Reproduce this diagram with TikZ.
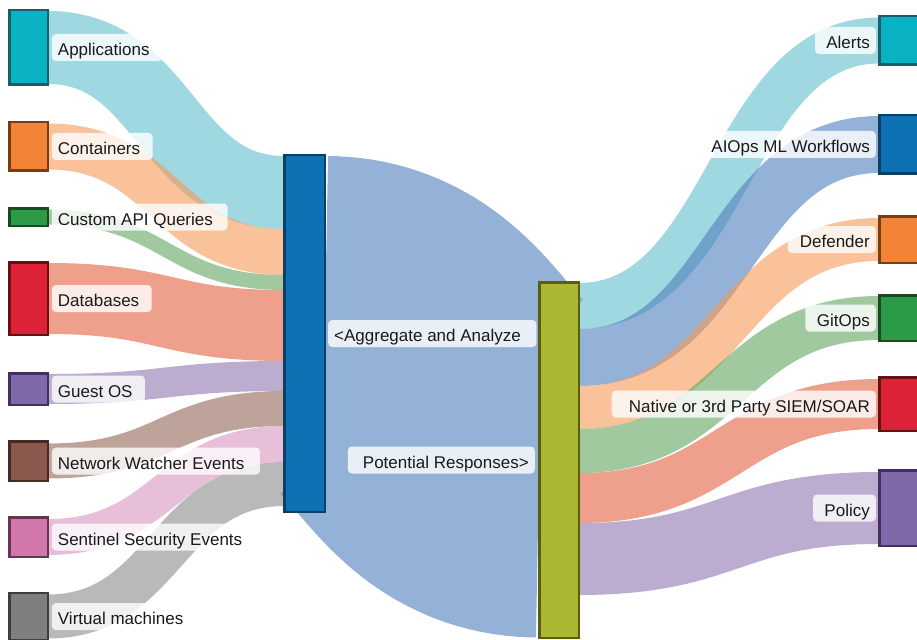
\documentclass[tikz,border=0pt]{standalone}
\usepackage{fontspec}
\setmainfont{Liberation Sans}
\usetikzlibrary{calc}

% node fills and borders
\definecolor{cApps}{HTML}{0AB3C4}\definecolor{bApps}{HTML}{195E68}
\definecolor{cCont}{HTML}{F28337}\definecolor{bCont}{HTML}{7A3D12}
\definecolor{cCust}{HTML}{2B9B48}\definecolor{bCust}{HTML}{1A4A24}
\definecolor{cDB}{HTML}{DD2136}\definecolor{bDB}{HTML}{6B0D14}
\definecolor{cGuest}{HTML}{7F69A8}\definecolor{bGuest}{HTML}{443060}
\definecolor{cNW}{HTML}{8A584C}\definecolor{bNW}{HTML}{462B25}
\definecolor{cSent}{HTML}{D277AB}\definecolor{bSent}{HTML}{693250}
\definecolor{cVM}{HTML}{7E7F80}\definecolor{bVM}{HTML}{3C3E3F}
\definecolor{cBlue}{HTML}{0D72B3}\definecolor{bBlue}{HTML}{0C3F63}
\definecolor{cOlive}{HTML}{ABB632}\definecolor{bOlive}{HTML}{5A5F10}
% link colours (drawn at 60% opacity)
\definecolor{fApps}{HTML}{61BECF}
\definecolor{fCont}{HTML}{F59957}
\definecolor{fCust}{HTML}{61A561}
\definecolor{fDB}{HTML}{E46141}
\definecolor{fGuest}{HTML}{8F75B1}
\definecolor{fNW}{HTML}{936657}
\definecolor{fSent}{HTML}{D794C0}
\definecolor{fVM}{HTML}{8A8A8A}
\definecolor{fBlue}{HTML}{4D7FBC}
\definecolor{txt}{HTML}{1A1A1A}

\tikzset{
  sk bar/.style={inner sep=0pt, outer sep=0pt},
  sk link/.style={line width=#1, line cap=butt, draw opacity=0.6},
  sk label/.style={fill=white, fill opacity=0.8, text opacity=1, text=txt,
    rounded corners=4pt, inner xsep=6pt, inner ysep=0pt,
    text height=21.9pt, text depth=5.1pt, font=\fontsize{17}{20}\selectfont},
}

% a flow band between two ports: constant-thickness bezier
\newcommand\sklink[4]{%
  \draw[sk link=#3, draw=#4] let \p1=(#1), \p2=(#2) in
    (\p1) .. controls ({0.5*\x1+0.5*\x2},{\y1}) and ({0.5*\x1+0.5*\x2},{\y2}) .. (\p2);}
% labels: extra padding on the side away from the bar
\newcommand\lblL[3]{\node[sk label, anchor=west] (#1) at #2
  {\setbox0=\hbox{#3}\dimen0=\dimexpr 4pt+0.03\wd0\relax\box0\kern\dimen0};}
\newcommand\lblR[3]{\node[sk label, anchor=east] (#1) at #2
  {\setbox0=\hbox{#3}\kern\dimexpr 4pt+0.03\wd0\relax\box0};}

\begin{document}
\begin{tikzpicture}[x=1pt,y=-1pt]
\useasboundingbox (0,0) rectangle (917,639);
\clip (0,0) rectangle (917,639);

% ---- bar positions (painted after the links) ----
\path
  (28.5,47.5)  node[sk bar, minimum width=38.5pt, minimum height=74.5pt] (apps) {}
  (28.5,146.5) node[sk bar, minimum width=38.5pt, minimum height=48.5pt] (cont) {}
  (28.5,217)   node[sk bar, minimum width=38.5pt, minimum height=17.5pt] (cust) {}
  (28.5,298.5) node[sk bar, minimum width=38.5pt, minimum height=72.5pt] (db) {}
  (28.5,389)   node[sk bar, minimum width=38.5pt, minimum height=31.5pt] (guest) {}
  (28.5,461)   node[sk bar, minimum width=38.5pt, minimum height=39.5pt] (nw) {}
  (28.5,537)   node[sk bar, minimum width=38.5pt, minimum height=39.5pt] (sent) {}
  (28.5,616.5) node[sk bar, minimum width=38.5pt, minimum height=47.5pt] (vm) {}
  (304.5,333.5) node[sk bar, minimum width=40.5pt, minimum height=356.5pt] (agg) {}
  (559,460)     node[sk bar, minimum width=39.5pt, minimum height=355.5pt] (resp) {}
  (899.5,40.5)  node[sk bar, minimum width=40.5pt, minimum height=48.5pt] (alerts) {}
  (899.5,144.5) node[sk bar, minimum width=40.5pt, minimum height=58.5pt] (aiops) {}
  (899.5,239.5) node[sk bar, minimum width=40.5pt, minimum height=46.5pt] (def) {}
  (899.5,318)   node[sk bar, minimum width=40.5pt, minimum height=45.5pt] (git) {}
  (899.5,404)   node[sk bar, minimum width=40.5pt, minimum height=53.5pt] (siem) {}
  (899.5,508)   node[sk bar, minimum width=40.5pt, minimum height=75.5pt] (pol) {};

% ---- links into the aggregation bar ----
\sklink{apps.east}{[yshift=-37.25pt]agg.north west}{73pt}{fApps}
\sklink{cont.east}{[yshift=-96.75pt]agg.north west}{46pt}{fCont}
\sklink{cust.east}{[yshift=-127.25pt]agg.north west}{15pt}{fCust}
\sklink{db.east}{[yshift=-170.25pt]agg.north west}{71pt}{fDB}
\sklink{guest.east}{[yshift=-220.75pt]agg.north west}{30pt}{fGuest}
\sklink{nw.east}{[yshift=-253.25pt]agg.north west}{35pt}{fNW}
\sklink{sent.east}{[yshift=-288.75pt]agg.north west}{36pt}{fSent}
\sklink{vm.east}{[yshift=-328.75pt]agg.north west}{44pt}{fVM}

% ---- aggregation to responses ----
\sklink{agg.east}{resp.west}{355pt}{fBlue}

% ---- links out of the responses bar ----
\sklink{[yshift=-23.75pt]resp.north east}{alerts.west}{46pt}{fApps}
\sklink{[yshift=-75.25pt]resp.north east}{aiops.west}{57pt}{fBlue}
\sklink{[yshift=-125.25pt]resp.north east}{def.west}{43pt}{fCont}
\sklink{[yshift=-168.75pt]resp.north east}{git.west}{44pt}{fCust}
\sklink{[yshift=-215.75pt]resp.north east}{siem.west}{50pt}{fDB}
\sklink{[yshift=-276.75pt]resp.north east}{pol.west}{72pt}{fGuest}

% ---- bars painted ----
\foreach \n/\c in {apps/Apps, cont/Cont, cust/Cust, db/DB, guest/Guest, nw/NW, sent/Sent, vm/VM,
                   agg/Blue, resp/Olive, alerts/Apps, aiops/Blue, def/Cont, git/Cust, siem/DB, pol/Guest}
  \draw[line width=2.5pt, fill=c\c, draw=b\c] (\n.north west) rectangle (\n.south east);

% ---- labels ----
\lblL{lApps}{([xshift=4pt]apps.east)}{Applications}
\lblL{lCont}{([xshift=4pt]cont.east)}{Containers}
\lblL{lCust}{([xshift=4pt]cust.east)}{Custom API Queries}
\lblL{lDB}{([xshift=4pt]db.east)}{Databases}
\lblL{lGuest}{([xshift=4pt]guest.east)}{Guest OS}
\lblL{lNW}{([xshift=4pt]nw.east)}{Network Watcher Events}
\lblL{lSent}{([xshift=4pt]sent.east)}{Sentinel Security Events}
\lblL{lVM}{([xshift=4pt]vm.east)}{Virtual machines}
\lblL{lAgg}{([xshift=3.25pt]agg.east)}{<Aggregate and Analyze}
\lblR{lResp}{([xshift=-4.25pt]resp.west)}{Potential Responses>}
\lblR{lAlerts}{([xshift=-3.25pt]alerts.west)}{Alerts}
\lblR{lAiops}{([xshift=-3.25pt]aiops.west)}{AIOps ML Workflows}
\lblR{lDef}{([xshift=-3.25pt]def.west)}{Defender}
\lblR{lGit}{([xshift=-3.25pt]git.west)}{GitOps}
\lblR{lSiem}{([xshift=-3.25pt]siem.west)}{Native or 3rd Party SIEM/SOAR}
\lblR{lPol}{([xshift=-3.25pt]pol.west)}{Policy}
\end{tikzpicture}
\end{document}
